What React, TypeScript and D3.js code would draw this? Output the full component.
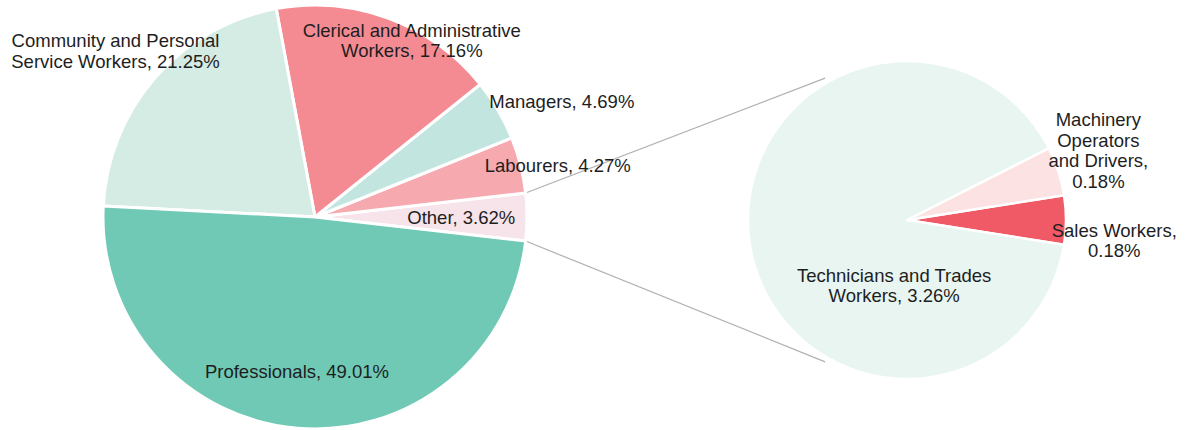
import React from 'react';
import * as d3 from 'd3';

// main pie, counter-clockwise from the "Other" wedge
const mainCategories = [
    'Other',
    'Labourers',
    'Managers',
    'Clerical and Administrative Workers',
    'Community and Personal Service Workers',
    'Professionals',
];
const mainValues = [3.62, 4.27, 4.69, 17.16, 21.25, 49.01];
const mainColors = ['#F7E3EA', '#F6AAAF', '#C2E6DF', '#F48B93', '#D5ECE4', '#6FC9B5'];

// breakdown of "Other"
const otherCategories = ['Sales Workers', 'Machinery Operators and Drivers', 'Technicians and Trades Workers'];
const otherValues = [0.18, 0.18, 3.26];
const otherColors = ['#F05A67', '#FDE2E3', '#E8F5F1'];

// how each label breaks over lines
const mainLabelLines = [
    ['Other, 3.62%'],
    ['Labourers, 4.27%'],
    ['Managers, 4.69%'],
    ['Clerical and Administrative', 'Workers, 17.16%'],
    ['Community and Personal', 'Service Workers, 21.25%'],
    ['Professionals, 49.01%'],
];
const otherLabelLines = [
    ['Sales Workers,', '0.18%'],
    ['Machinery', 'Operators', 'and Drivers,', '0.18%'],
    ['Technicians and Trades', 'Workers, 3.26%'],
];

// label placement: [radius factor, angle offset in degrees (ccw)]
const mainLabelPos = [[0.69, 0], [1.17, -2.3], [1.285, -5.3], [0.95, -8.4], [1.225, 1.4], [0.735, -1.9]];
const otherLabelPos = [[1.31, -5.6], [1.28, 2], [0.42, 70]];

const W = 1187;
const H = 430;
const FONT_SIZE = 18.5;
const LINE_H = 20.5;

const toRad = (deg: number) => (deg * Math.PI) / 180;

const PieGroup = ({ values, colors, lines, pos, cx, cy, r, stroke }: any) => {
    // matplotlib style: first wedge centred on 3 o'clock, going counter-clockwise
    const startMath = -180 * (values[0] / d3.sum(values));
    const start = toRad(90 - startMath);
    const pie = d3.pie<number>().sort(null).startAngle(start).endAngle(start - 2 * Math.PI);
    const arcs = pie(values);
    const arc = d3.arc<any>().innerRadius(0).outerRadius(r);

    return (
        <g>
            {arcs.map((a, i) => (
                <path
                    key={'w' + i}
                    transform={`translate(${cx},${cy})`}
                    d={arc(a) || ''}
                    fill={colors[i]}
                    stroke="#fff"
                    strokeWidth={stroke}
                    strokeLinejoin="round"
                />
            ))}
            {arcs.map((a, i) => {
                const mid = 90 - ((a.startAngle + a.endAngle) / 2) * 180 / Math.PI + pos[i][1];
                const x = cx + pos[i][0] * r * Math.cos(toRad(mid));
                const y = cy - pos[i][0] * r * Math.sin(toRad(mid));
                const ls = lines[i];
                return (
                    <text key={'t' + i} x={x} y={y} textAnchor="middle" fill="#1e1e1e">
                        {ls.map((l: string, j: number) => (
                            <tspan key={j} x={x} y={y + (j - (ls.length - 1) / 2) * LINE_H} dominantBaseline="central">
                                {l}
                            </tspan>
                        ))}
                    </text>
                );
            })}
        </g>
    );
};

const App = () => {
    const c1 = { x: 315, y: 217, r: 212 };
    const c2 = { x: 907, y: 220, r: 159 };

    // edges of the "Other" wedge on the main pie
    const otherHalf = 180 * (mainValues[0] / d3.sum(mainValues));
    const ends = [1, -1].map(s => {
        const a1 = toRad(s * otherHalf);
        const a2 = toRad(s * 120);
        return {
            x1: c1.x + c1.r * Math.cos(a1),
            y1: c1.y - c1.r * Math.sin(a1),
            x2: c2.x + c2.r * 1.03 * Math.cos(a2),
            y2: c2.y - c2.r * 1.03 * Math.sin(a2),
        };
    });

    return (
        <svg
            width={W}
            height={H}
            viewBox={`0,0,${W},${H}`}
            style={{ position: 'absolute', left: 0, top: 0, font: `${FONT_SIZE}px "Liberation Sans", Arial, sans-serif` }}
        >
            <rect width={W} height={H} fill="#fff" />
            {ends.map((e, i) => (
                <line key={'c' + i} x1={e.x1} y1={e.y1} x2={e.x2} y2={e.y2} stroke="#b0b0b0" strokeWidth={1.2} />
            ))}
            <PieGroup values={mainValues} colors={mainColors} lines={mainLabelLines} pos={mainLabelPos}
                cx={c1.x} cy={c1.y} r={c1.r} stroke={3} />
            <PieGroup values={otherValues} colors={otherColors} lines={otherLabelLines} pos={otherLabelPos}
                cx={c2.x} cy={c2.y} r={c2.r} stroke={2.5} />
        </svg>
    );
};

export default App;
